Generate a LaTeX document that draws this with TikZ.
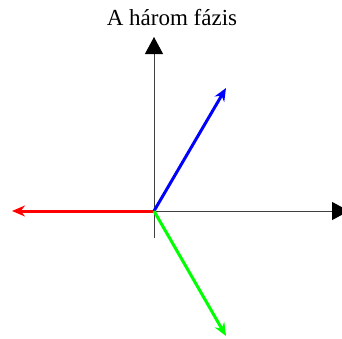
\documentclass[tikz,border=0pt]{standalone}
\usepackage{fontspec}
\setmainfont{Liberation Serif}
\usetikzlibrary{arrows.meta}
\begin{document}
\begin{tikzpicture}[x=1pt,y=-1pt,
  axis/.style={draw=black!75,line width=1pt,-{Triangle[length=17pt,width=18pt,color=black]}},
  phasor/.style={line width=3pt,-{Stealth[length=13pt,width=11pt]}}]
\useasboundingbox (0,0) rectangle (342,338);
\coordinate (O) at (154,211);
\coordinate (bot) at (154,238);
\coordinate (top) at (154,37);
\coordinate (right) at (349,211);
\coordinate (R) at (12,211);
\coordinate (B) at (226,88);
\coordinate (G) at (226,336);
\node[font=\fontsize{23}{27}\selectfont] (title) at (172,18) {A három fázis};
\draw[axis] (bot) -- (top);
\draw[axis] (O) -- (right);
\draw[phasor,red] (O) -- (R);
\draw[phasor,blue] (O) -- (B);
\draw[phasor,green] (O) -- (G);
\end{tikzpicture}
\end{document}
